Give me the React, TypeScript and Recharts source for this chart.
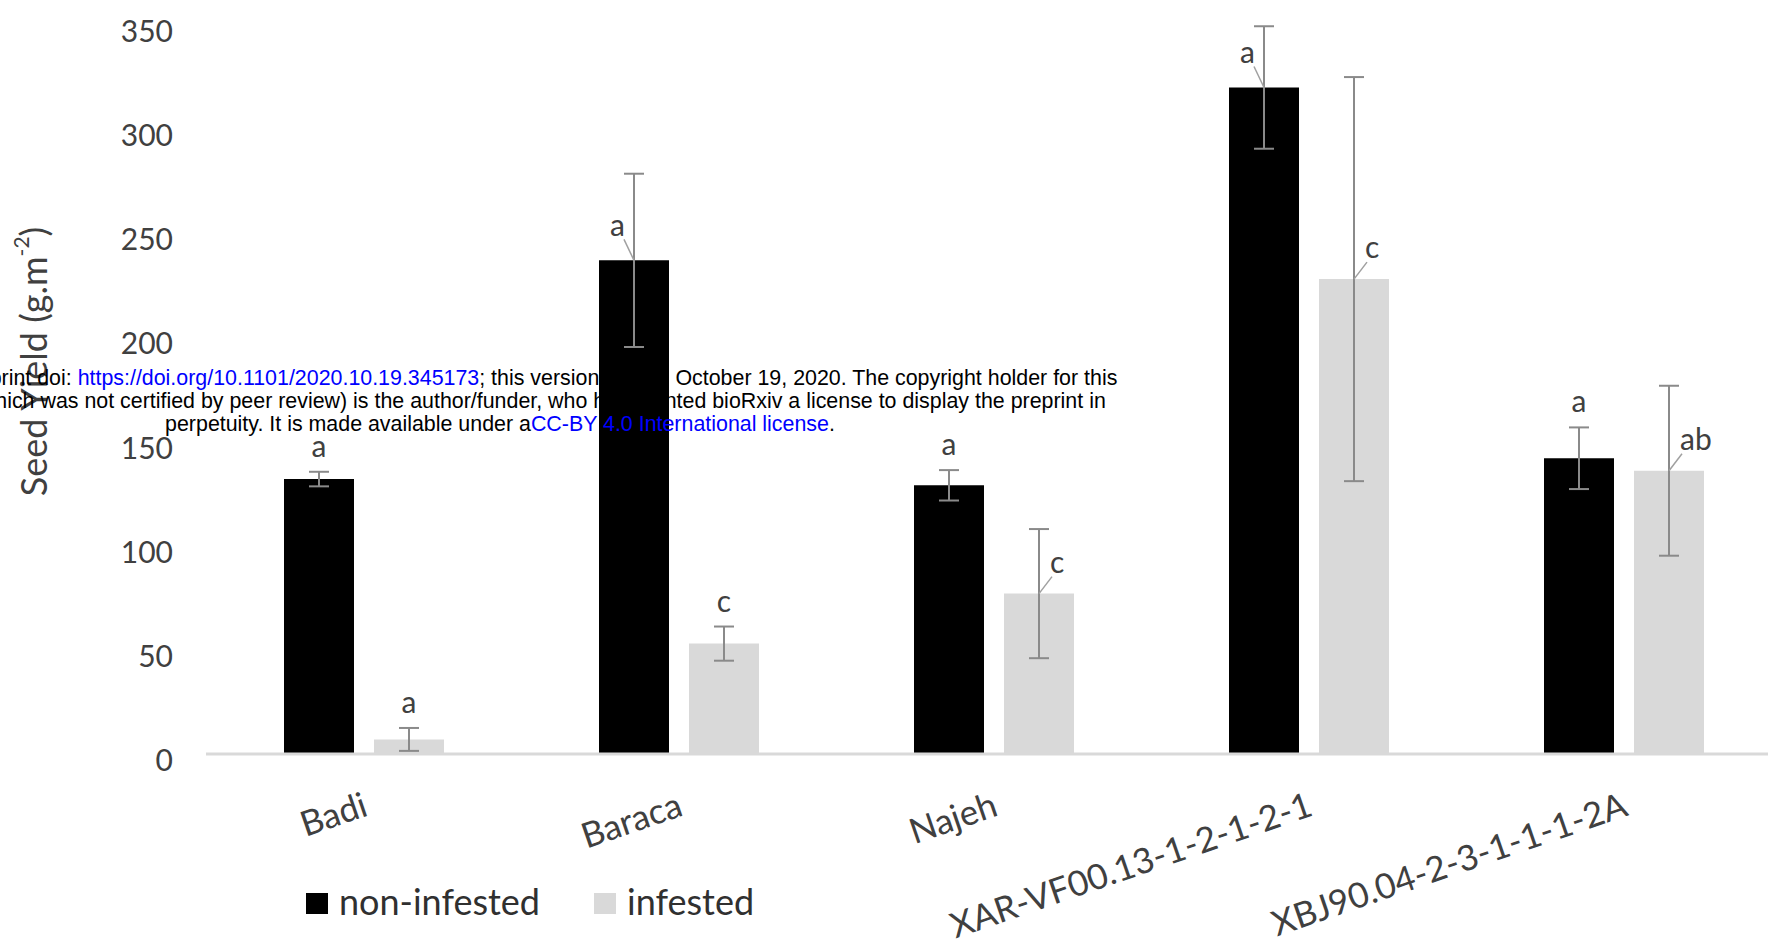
import { Bar, BarChart, ErrorBar, LabelList, Legend, XAxis, YAxis } from 'recharts'

const CULTIVARS = ['Badi', 'Baraca', 'Najeh', 'XAR-VF00.13-1-2-1-2-1', 'XBJ90.04-2-3-1-1-1-2A']
const NON_INFESTED = [132, 237, 129, 320, 142]
const NON_INFESTED_ERR = [3.5, 41.6, 7.3, 29.4, 14.8]
const NON_INFESTED_LETTERS = ['a', 'a', 'a', 'a', 'a']
const INFESTED = [7, 53, 77, 228, 136]
const INFESTED_ERR = [5.5, 8.2, 31, 97, 40.8]
const INFESTED_LETTERS = ['a', 'c', 'c', 'c', 'ab']
const SERIES = ['non-infested', 'infested']
const Y_TICKS = [0, 50, 100, 150, 200, 250, 300, 350]

const data = CULTIVARS.map((name, i) => ({
  name,
  non: NON_INFESTED[i],
  nonErr: NON_INFESTED_ERR[i],
  nonLetter: NON_INFESTED_LETTERS[i],
  inf: INFESTED[i],
  infErr: INFESTED_ERR[i],
  infLetter: INFESTED_LETTERS[i],
}))

const FONT = 'Lato, "Open Sans", sans-serif'
const TEXT = '#404040'

function ValueTick({ x, y, payload }: any) {
  return (
    <text x={x} y={y} dy={17} textAnchor="end" fontSize={30} fill={TEXT} fontFamily={FONT}>
      {payload.value}
    </text>
  )
}

function CultivarTick({ x, y, payload }: any) {
  return (
    <g transform={`translate(${x + 6},${y + 61}) rotate(-19)`}>
      <text x={0} y={0} textAnchor="end" fontSize={35} fill={TEXT} fontFamily={FONT}>
        {payload.value}
      </text>
    </g>
  )
}

function YTitle({ viewBox }: any) {
  const cx = (viewBox?.x ?? 0) + 33
  const cy = (viewBox?.y ?? 25) + (viewBox?.height ?? 729) / 2 - 28
  return (
    <text
      x={cx}
      y={cy}
      transform={`rotate(-90, ${cx}, ${cy})`}
      textAnchor="middle"
      dominantBaseline="central"
      fontSize={36}
      fill={TEXT}
      fontFamily={FONT}
    >
      Seed Yield (g.m<tspan dy={-13} fontSize={21}>-2</tspan>
      <tspan dy={13}>)</tspan>
    </text>
  )
}

// letters sit above the error cap, or beside the bar top with a leader line when the bar is long
function letterLabel(values: number[], errs: number[], side: 'left' | 'right') {
  return (props: any) => {
    const { x, y, width, height, index, value } = props
    const cx = x + width / 2
    const err = errs[index]
    const pxPerUnit = height / values[index]
    const style = { fontSize: 30, fill: TEXT, fontFamily: FONT }
    if (err < 20) {
      const capY = y - err * pxPerUnit
      return (
        <text x={cx} y={capY - 15} textAnchor="middle" {...style}>
          {value}
        </text>
      )
    }
    if (side === 'left') {
      return (
        <g>
          <line x1={cx} y1={y} x2={cx - 10} y2={y - 21} stroke="#a0a0a0" strokeWidth={1.5} />
          <text x={cx - 9} y={y - 24} textAnchor="end" {...style}>
            {value}
          </text>
        </g>
      )
    }
    return (
      <g>
        <line x1={cx} y1={y} x2={cx + 13} y2={y - 17} stroke="#a0a0a0" strokeWidth={1.5} />
        <text x={cx + 11} y={y - 21} textAnchor="start" {...style}>
          {value}
        </text>
      </g>
    )
  }
}

function SeriesLegend({ payload }: any) {
  const items = [...(payload ?? [])].sort((a: any, b: any) => SERIES.indexOf(a.value) - SERIES.indexOf(b.value))
  return (
    <div style={{ display: 'flex', alignItems: 'center', fontFamily: FONT, fontSize: 36, color: '#303030' }}>
      {items.map((entry: any, i: number) => (
        <div key={entry.value} style={{ display: 'flex', alignItems: 'center', marginLeft: i ? 54 : 0 }}>
          <span style={{ display: 'inline-block', width: 22, height: 21, background: entry.color, marginRight: 11, position: 'relative', top: 2 }} />
          <span>{entry.value}</span>
        </div>
      ))}
    </div>
  )
}

export default function App() {
  return (
    <div style={{ position: 'fixed', left: 0, top: 0, width: 1768, height: 946, overflow: 'hidden', background: '#fff' }}>
      <BarChart width={1800} height={946} data={data} margin={{ top: 25, right: 19, left: 0, bottom: 0 }} barGap={20}>
        <XAxis
          dataKey="name"
          interval={0}
          height={192}
          tickLine={false}
          tickSize={0}
          tickMargin={0}
          axisLine={{ stroke: '#d9d9d9', strokeWidth: 3 }}
          tick={<CultivarTick />}
        />
        <YAxis
          domain={[0, 350]}
          ticks={Y_TICKS}
          interval={0}
          width={206}
          axisLine={false}
          tickLine={false}
          tickSize={0}
          tickMargin={33}
          tick={<ValueTick />}
          label={<YTitle />}
        />
        <Legend
          layout="horizontal"
          verticalAlign="middle"
          align="center"
          content={<SeriesLegend />}
          wrapperStyle={{ left: 306, top: 879, width: 700, height: 50 }}
        />
        <Bar dataKey="non" name="non-infested" fill="#000000" barSize={70} isAnimationActive={false}>
          <ErrorBar dataKey="nonErr" direction="y" width={10} stroke="#8a8a8a" strokeWidth={2} />
          <LabelList dataKey="nonLetter" content={letterLabel(NON_INFESTED, NON_INFESTED_ERR, 'left')} />
        </Bar>
        <Bar dataKey="inf" name="infested" fill="#d9d9d9" barSize={70} isAnimationActive={false}>
          <ErrorBar dataKey="infErr" direction="y" width={10} stroke="#8a8a8a" strokeWidth={2} />
          <LabelList dataKey="infLetter" content={letterLabel(INFESTED, INFESTED_ERR, 'right')} />
        </Bar>
      </BarChart>
      <svg width={1768} height={946} style={{ position: 'absolute', left: 0, top: 0, pointerEvents: 'none' }}>
        <g fontFamily='"Liberation Sans", Arial, sans-serif' fontSize={21.4} fill="#000">
          <text x={500} y={385} textAnchor="middle">
            bioRxiv preprint doi:{' '}
            <tspan fill="#0000ff">https://doi.org/10.1101/2020.10.19.345173</tspan>
            ; this version posted October 19, 2020. The copyright holder for this
          </text>
          <text x={500} y={408} textAnchor="middle">
            preprint (which was not certified by peer review) is the author/funder, who has granted bioRxiv a license to display the preprint in
          </text>
          <text x={500} y={431} textAnchor="middle">
            perpetuity. It is made available under a<tspan fill="#0000ff">CC-BY 4.0 International license</tspan>.
          </text>
        </g>
      </svg>
    </div>
  )
}
